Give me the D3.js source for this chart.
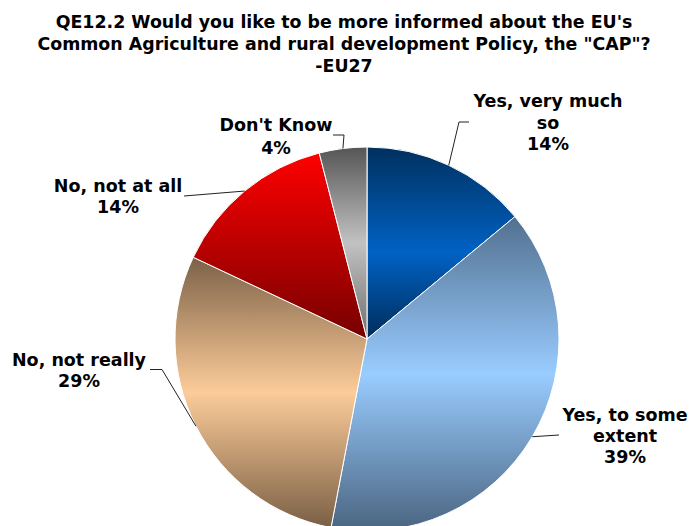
<!DOCTYPE html>
<html>
<head>
<meta charset="utf-8">
<script src="https://cdn.jsdelivr.net/npm/d3@7"></script>
<style>
  html, body { margin: 0; padding: 0; background: #fff; }
  svg { display: block; }
  text { font-family: "DejaVu Sans", Verdana, sans-serif; font-weight: bold; fill: #000; }
</style>
</head>
<body>
<svg id="chart" width="692" height="526"></svg>
<script>
// Answer categories and their shares (%)
const categories = ["Yes, very much so", "Yes, to some extent", "No, not really", "No, not at all", "Don't Know"];
const values = [14, 39, 29, 14, 4];
// Label lines as printed next to each slice
const labelLines = [
  ["Yes, very much", "so", "14%"],
  ["Yes, to some", "extent", "39%"],
  ["No, not really", "29%"],
  ["No, not at all", "14%"],
  ["Don't Know", "4%"]
];
const titleLines = [
  "QE12.2 Would you like to be more informed about the EU's",
  "Common Agriculture and rural development Policy, the \"CAP\"?",
  "-EU27"
];

// Vertical gradient stops per slice: [offset, colour]
const gradients = [
  [[0, "#00305f"], [0.55, "#0062c4"], [1, "#002c5a"]],
  [[0, "#52708f"], [0.5, "#99ccff"], [1, "#4a6480"]],
  [[0, "#7c6147"], [0.5, "#fccc99"], [1, "#7a5f45"]],
  [[0, "#ff0000"], [1, "#760000"]],
  [[0, "#555555"], [0.5, "#c2c2c2"], [1, "#6e6e6e"]]
];

// Label placement: text anchor point and leader-line elbow points
const labelLayout = [
  { x: 548, y: 107, lh: 21.5, path: [[459, 122], [469, 122]] },
  { x: 625, y: 421, lh: 21, path: [[559, 435]] },
  { x: 79, y: 366, lh: 21, path: [[162, 369.5], [150, 369.5]] },
  { x: 118, y: 192, lh: 21, path: [[184, 196]] },
  { x: 276, y: 131, lh: 22.5, path: [[344, 135], [333, 135]] }
];

const svg = d3.select("#chart");
const cx = 367, cy = 339, r = 192;

// Title
svg.append("g").selectAll("text")
  .data(titleLines)
  .join("text")
  .attr("x", 344)
  .attr("y", (d, i) => 28 + i * 22)
  .attr("text-anchor", "middle")
  .style("font-size", "17.4px")
  .text(d => d);

// Gradients
const defs = svg.append("defs");
gradients.forEach((stops, i) => {
  const g = defs.append("linearGradient")
    .attr("id", "grad" + i)
    .attr("x1", 0).attr("y1", 0).attr("x2", 0).attr("y2", 1);
  stops.forEach(([o, c]) => g.append("stop").attr("offset", o).attr("stop-color", c));
});

const pie = d3.pie().sort(null).value(d => d);
const arcs = pie(values);
const arc = d3.arc().innerRadius(0).outerRadius(r);

const gPie = svg.append("g").attr("transform", `translate(${cx},${cy})`);
gPie.selectAll("path")
  .data(arcs)
  .join("path")
  .attr("d", arc)
  .attr("fill", (d, i) => `url(#grad${i})`)
  .attr("stroke", "#fff")
  .attr("stroke-width", 1);

// Leader lines from each slice's outer mid-point
const line = d3.line();
arcs.forEach((a, i) => {
  const mid = (a.startAngle + a.endAngle) / 2;
  const p0 = [cx + r * Math.sin(mid), cy - r * Math.cos(mid)];
  svg.append("path")
    .attr("d", line([p0, ...labelLayout[i].path]))
    .attr("fill", "none")
    .attr("stroke", "#222")
    .attr("stroke-width", 1);
});

// Slice labels
const gLab = svg.append("g");
labelLines.forEach((lines, i) => {
  const L = labelLayout[i];
  gLab.append("g").selectAll("text")
    .data(lines)
    .join("text")
    .attr("x", L.x)
    .attr("y", (d, j) => L.y + j * L.lh)
    .attr("text-anchor", "middle")
    .style("font-size", "17.5px")
    .text(d => d);
});
</script>
</body>
</html>
